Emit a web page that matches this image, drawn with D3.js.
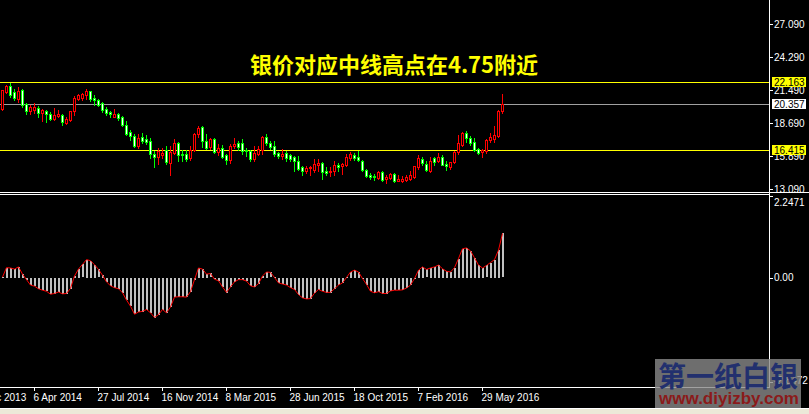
<!DOCTYPE html>
<html><head><meta charset="utf-8">
<script src="https://cdn.jsdelivr.net/npm/d3@7"></script>
<style>html,body{margin:0;padding:0;background:#000;overflow:hidden}</style>
</head><body>
<svg id="c" width="809" height="414"></svg>
<script>
// Weekly XAG candles (index 0 = week of 9 Feb 2014, last = 3 Jul 2016)
const opens = [19.90,21.34,21.82,21.34,20.78,21.51,20.32,19.70,19.82,19.99,19.59,19.70,19.48,19.08,19.28,19.42,18.74,19.00,19.70,20.75,
20.83,21.12,21.40,20.83,20.64,20.41,19.90,19.65,19.22,19.50,19.22,18.51,17.92,17.61,16.79,17.50,17.38,17.21,16.08,15.83,
15.97,16.45,15.32,16.17,17.02,16.08,16.08,15.74,16.45,17.81,18.40,17.16,16.68,17.38,16.25,16.59,15.97,15.60,16.73,16.99,
16.99,16.45,16.31,15.69,16.11,16.45,17.50,17.02,16.73,16.17,15.89,16.17,16.00,15.80,15.52,14.95,14.67,14.89,14.75,15.18,
15.32,14.67,14.56,14.61,15.12,15.04,15.12,15.74,16.03,15.80,15.46,14.75,14.33,14.22,14.05,14.56,13.96,14.05,14.39,13.82,
13.82,13.90,13.96,14.10,14.95,15.66,15.23,14.61,15.74,15.46,15.80,15.23,14.98,15.38,16.25,16.82,17.86,17.44,17.10,16.53,
16.25,16.31,17.30,17.38,17.58,19.70];
const highs = [21.54,21.96,22.11,21.63,21.74,21.57,20.38,20.21,20.38,20.13,19.90,19.79,19.62,19.99,19.79,19.48,19.22,19.76,20.98,21.20,
21.29,21.60,21.46,21.06,20.78,20.49,20.07,19.76,19.90,19.59,19.31,18.91,18.09,17.78,17.78,17.86,17.69,17.44,16.31,16.59,
16.59,16.73,16.73,17.36,17.07,16.45,16.45,16.73,17.86,18.46,18.49,17.78,17.44,17.44,16.93,16.82,16.08,16.93,17.44,17.16,
17.36,16.59,16.45,16.73,16.73,17.58,17.78,17.21,17.16,16.25,16.51,16.31,16.08,15.89,15.89,15.04,15.04,15.09,15.66,15.66,
15.40,14.95,14.95,15.46,15.32,15.32,16.08,16.25,16.14,16.36,15.60,14.84,14.47,14.39,14.67,14.61,14.33,14.47,14.47,14.33,
14.19,14.33,14.61,15.09,15.97,15.83,15.52,15.80,15.85,16.17,15.97,15.46,15.40,16.31,17.72,17.95,18.05,17.61,17.44,16.59,
16.51,17.38,17.86,18.43,19.84,21.17];
const lows = [19.84,21.26,20.89,20.66,20.49,20.10,19.50,19.50,19.53,19.22,18.91,18.77,18.94,18.97,19.19,18.57,18.63,18.91,19.42,20.66,
20.66,20.75,20.55,20.27,20.15,19.67,19.42,19.25,19.19,19.00,18.46,17.72,17.27,16.70,16.59,17.02,16.93,15.74,14.98,15.26,
15.74,15.23,14.30,16.08,15.52,15.52,15.52,15.60,16.37,17.52,16.68,16.51,16.53,16.17,15.97,15.74,15.26,15.32,16.59,16.39,
16.08,15.89,15.52,15.52,16.03,16.08,16.87,16.53,15.89,15.74,15.69,15.52,15.46,14.67,14.75,14.33,14.47,14.33,14.56,14.61,
13.99,14.33,14.24,14.27,14.61,14.39,15.04,15.60,15.60,15.46,14.67,14.10,13.99,13.91,13.96,13.76,13.62,13.99,13.71,13.76,
13.74,13.82,13.90,14.05,14.84,15.12,14.64,14.56,15.12,15.40,15.12,14.75,14.84,15.32,16.08,16.76,17.10,16.82,16.31,16.08,
15.80,16.20,17.10,17.10,17.50,19.56];
const closes = [21.48,21.85,21.12,20.83,21.40,20.27,19.76,20.04,20.04,19.59,19.79,19.48,19.08,19.39,19.50,18.77,19.08,19.70,20.83,21.06,
21.17,21.40,20.78,20.64,20.27,19.84,19.53,19.45,19.50,19.16,18.57,17.81,17.64,16.79,17.44,17.21,17.10,16.08,15.80,16.34,
16.17,15.40,16.25,17.02,16.03,15.97,15.69,16.45,17.78,18.29,17.21,16.59,17.36,16.22,16.59,15.80,15.60,16.73,16.93,16.68,
16.37,16.37,15.69,16.17,16.53,17.52,17.02,16.68,16.08,15.89,16.11,15.74,15.66,15.52,14.84,14.67,14.89,14.95,15.23,15.32,
14.56,14.47,14.61,15.12,15.01,15.23,15.80,16.08,15.74,15.55,14.75,14.24,14.10,14.16,14.56,13.90,14.16,14.39,13.82,13.99,
13.96,14.10,14.33,15.04,15.74,15.32,14.70,15.52,15.40,15.80,15.18,15.04,15.38,16.25,16.99,17.86,17.44,17.02,16.45,16.17,
16.45,17.30,17.50,17.66,19.76,20.36];
// Lower indicator histogram (same bars)
const histValues = [0.02,0.28,0.27,0.24,0.30,0.10,-0.05,-0.20,-0.23,-0.30,
-0.34,-0.37,-0.45,-0.43,-0.39,-0.44,-0.43,-0.29,0.05,0.24,
0.37,0.50,0.47,0.36,0.23,0.07,-0.11,-0.22,-0.27,-0.30,
-0.41,-0.61,-0.78,-1.00,-0.94,-0.92,-0.87,-0.96,-1.09,-1.01,
-0.87,-0.96,-0.80,-0.53,-0.52,-0.52,-0.53,-0.38,-0.05,0.27,
0.24,0.10,0.12,-0.04,-0.08,-0.25,-0.40,-0.25,-0.11,-0.05,
-0.05,-0.09,-0.22,-0.25,-0.16,0.05,0.16,0.15,0.01,-0.14,
-0.17,-0.20,-0.27,-0.32,-0.46,-0.55,-0.58,-0.57,-0.42,-0.32,
-0.37,-0.40,-0.40,-0.30,-0.20,-0.14,0.01,0.16,0.21,0.16,
-0.02,-0.18,-0.37,-0.41,-0.38,-0.43,-0.43,-0.36,-0.34,-0.34,
-0.33,-0.28,-0.20,-0.02,0.21,0.30,0.23,0.27,0.30,0.35,
0.25,0.18,0.16,0.28,0.53,0.80,0.82,0.74,0.55,0.35,
0.27,0.34,0.42,0.50,0.76,1.22];
const priceTicks = [27.090, 24.290, 21.490, 18.690, 15.890, 13.090];
const histTicks = [2.2471, 0.00, -2.8472];
const histTickLabels = ["2.2471", "0.00", "-2.8472"];
const timeTickIndex = [-8, 8, 24, 40, 56, 72, 88, 104, 120];
const timeTickLabels = ["15 Dec 2013","6 Apr 2014","27 Jul 2014","16 Nov 2014","8 Mar 2015","28 Jun 2015","18 Oct 2015","7 Feb 2016","29 May 2016"];
const levelLines = [22.163, 16.415];
const bidPrice = 20.357;
const title = "银价对应中线高点在4.75附近";

const W = 809, H = 414, axisX = 769.5;
const svg = d3.select('#c');
svg.append('rect').attr('width', W).attr('height', H).attr('fill', '#000');

const x = d3.scaleLinear().domain([0, 125]).range([2.5, 502.5]);
const y = d3.scaleLinear().domain([13.09, 27.09]).range([189.3, 24.3]);
const hy = d3.scaleLinear().domain([-2.8472, 2.2471]).range([381.5, 196]);
const px = v => Math.round(v) + 0.5;
const font = "'Liberation Sans', Arial, sans-serif";

svg.append('clipPath').attr('id', 'topClip').append('rect').attr('x', 0).attr('y', 0).attr('width', 769).attr('height', 192);
svg.append('clipPath').attr('id', 'botClip').append('rect').attr('x', 0).attr('y', 195).attr('width', 769).attr('height', 192);

const topG = svg.append('g').attr('clip-path', 'url(#topClip)').attr('shape-rendering', 'crispEdges');

// title
svg.append('text').attr('x', 394).attr('y', 63).attr('text-anchor', 'middle')
  .attr('dominant-baseline', 'central')
  .attr('font-family', "'Noto Sans CJK SC', sans-serif").attr('font-weight', 'bold')
  .attr('font-size', 22).attr('fill', '#ffff00').text(title);

// level lines
topG.selectAll('line.lvl').data(levelLines).enter().append('line')
  .attr('x1', 0).attr('x2', axisX).attr('y1', d => px(y(d))).attr('y2', d => px(y(d)))
  .attr('stroke', '#ffff00').attr('stroke-width', 1);
topG.append('line').attr('x1', 0).attr('x2', axisX).attr('y1', px(y(bidPrice))).attr('y2', px(y(bidPrice)))
  .attr('stroke', '#a0a0a0').attr('stroke-width', 1);

// candles
const idx = d3.range(opens.length);
const cg = topG.append('g');
const cand = cg.selectAll('g.c').data(idx).enter().append('g');
cand.append('line')
  .attr('x1', i => x(i)).attr('x2', i => x(i))
  .attr('y1', i => Math.round(y(highs[i]))).attr('y2', i => Math.round(y(lows[i])) + 1)
  .attr('stroke', i => closes[i] >= opens[i] ? '#ff0000' : '#00ff00').attr('stroke-width', 1);
cand.append('rect')
  .attr('x', i => x(i) - 1).attr('width', 2)
  .attr('y', i => px(y(Math.max(opens[i], closes[i]))))
  .attr('height', i => Math.max(1, Math.round(y(Math.min(opens[i], closes[i]))) - Math.round(y(Math.max(opens[i], closes[i])))))
  .attr('fill', i => closes[i] >= opens[i] ? '#000' : '#ffffff')
  .attr('stroke', i => closes[i] >= opens[i] ? '#ff0000' : '#00ff00').attr('stroke-width', 1);

// histogram
const botG = svg.append('g').attr('clip-path', 'url(#botClip)');
const zero = hy(0);
botG.append('g').attr('shape-rendering', 'crispEdges').selectAll('rect').data(idx).enter().append('rect')
  .attr('x', i => x(i) - 0.5).attr('width', 2)
  .attr('y', i => Math.round(Math.min(hy(histValues[i]), zero)))
  .attr('height', i => Math.max(1, Math.round(Math.abs(hy(histValues[i]) - zero))))
  .attr('fill', '#c0c0c0');
botG.append('path').datum(idx)
  .attr('d', d3.line().x(i => x(i)).y(i => hy(histValues[i])))
  .attr('fill', 'none').attr('stroke', '#ff0000').attr('stroke-width', 1);

// frames
const fr = svg.append('g').attr('stroke', '#fff').attr('stroke-width', 1).attr('shape-rendering', 'crispEdges');
fr.append('line').attr('x1', axisX).attr('x2', axisX).attr('y1', 0).attr('y2', 387.5);
fr.append('line').attr('x1', 0).attr('x2', W).attr('y1', 192.5).attr('y2', 192.5);
fr.append('line').attr('x1', 0).attr('x2', axisX).attr('y1', 194.5).attr('y2', 194.5);
fr.append('line').attr('x1', 0).attr('x2', axisX).attr('y1', 387.5).attr('y2', 387.5);

// price axis
const pa = svg.append('g');
priceTicks.forEach(t => {
  const yy = px(y(t));
  pa.append('line').attr('x1', axisX).attr('x2', axisX + 3).attr('y1', yy).attr('y2', yy).attr('stroke', '#fff').attr('shape-rendering', 'crispEdges');
  pa.append('text').attr('x', 774).attr('y', y(t)).attr('dy', '0.36em').attr('font-family', font).attr('font-size', 10)
    .attr('fill', '#fff').text(t.toFixed(3));
});
function priceBox(v, bg) {
  const yy = Math.round(y(v));
  pa.append('rect').attr('x', 772).attr('y', yy - 5).attr('width', 34).attr('height', 10).attr('fill', bg);
  pa.append('text').attr('x', 774).attr('y', yy).attr('dy', '0.36em').attr('font-family', font).attr('font-size', 10)
    .attr('fill', '#000').text(v.toFixed(3));
}
levelLines.forEach(v => priceBox(v, '#ffff00'));
priceBox(bidPrice, '#ffffff');

// hist axis
histTicks.forEach((t, k) => {
  const yy = px(hy(t));
  pa.append('line').attr('x1', axisX).attr('x2', axisX + 3).attr('y1', yy).attr('y2', yy).attr('stroke', '#fff').attr('shape-rendering', 'crispEdges');
  const ty = k === 0 ? 202 : (k === 2 ? 380.5 : hy(t));
  pa.append('text').attr('x', 774).attr('y', ty).attr('dy', '0.36em').attr('font-family', font).attr('font-size', 10)
    .attr('fill', '#fff').text(histTickLabels[k]);
});

// time axis
const xt = d3.scaleLinear().domain([0, 125]).range([2, 502]);
timeTickIndex.forEach((ti, k) => {
  const xx = Math.round(xt(ti)) + 0.5;
  svg.append('line').attr('x1', xx).attr('x2', xx).attr('y1', 387.5).attr('y2', 391).attr('stroke', '#fff').attr('shape-rendering', 'crispEdges');
  svg.append('text').attr('x', xx - 1).attr('y', 400.5).attr('font-family', font).attr('font-size', 10)
    .attr('fill', '#fff').text(timeTickLabels[k]);
});

// bottom strip
svg.append('rect').attr('x', 0).attr('y', 408).attr('width', W).attr('height', 6).attr('fill', '#ece9d8');
svg.append('line').attr('x1', 0).attr('x2', W).attr('y1', 408.5).attr('y2', 408.5).attr('stroke', '#fff');

// watermark
const wm = svg.append('g');
wm.append('rect').attr('x', 655).attr('y', 359).attr('width', 146).attr('height', 49).attr('fill', '#8a8a8a').attr('opacity', 0.8);
wm.append('text').attr('x', 728).attr('y', 375).attr('text-anchor', 'middle').attr('dominant-baseline', 'central')
  .attr('font-family', "'Noto Sans CJK SC', sans-serif").attr('font-weight', 'bold').attr('font-size', 28)
  .attr('fill', '#22306e').text('第一纸白银');
wm.append('text').attr('x', 729).attr('y', 398).attr('text-anchor', 'middle').attr('dominant-baseline', 'central')
  .attr('font-family', font).attr('font-weight', 'bold').attr('font-size', 17)
  .attr('fill', '#8b1a1a').text('www.diyizby.com');
</script>
</body></html>
